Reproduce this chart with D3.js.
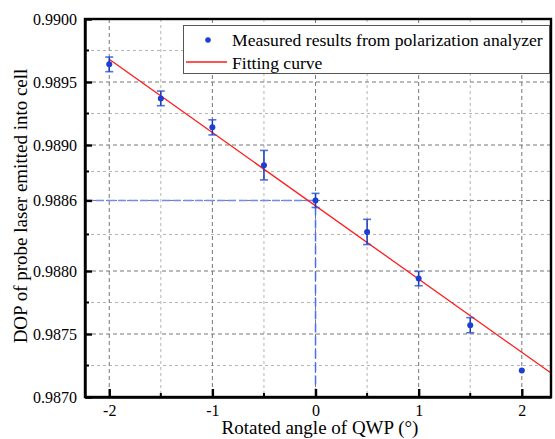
<!DOCTYPE html>
<html>
<head>
<meta charset="utf-8">
<script src="https://cdn.jsdelivr.net/npm/d3@7"></script>
<style>
  body { margin: 0; background: #fff; }
  svg { display: block; }
  svg text { font-family: "Liberation Serif", "Times New Roman", serif; }
</style>
</head>
<body>
<svg id="chart" width="555" height="439"></svg>
<script>
// measured points (angle in degrees, DOP, error)
const angles = [-2, -1.5, -1, -0.5, 0, 0.5, 1, 1.5, 2];
const dop = [0.98964, 0.98937, 0.98914, 0.98884, 0.98856, 0.98831, 0.98794, 0.98757, 0.98721];
const dopErr = [0.000058, 0.000058, 0.00006, 0.000117, 0.000056, 0.0001, 0.000057, 0.00006, 0];

// fitting line end points
const fitX = [-2, 2.3];
const fitY = [0.98968, 0.98718];

// marked point (QWP at 0)
const markX = 0;
const markY = 0.98856;

// ticks
const xMajor = [-2, -1, 0, 1, 2];
const xMinor = [-1.5, -0.5, 0.5, 1.5];
const yMajor = [0.9870, 0.9875, 0.9880, 0.98856, 0.9890, 0.9895, 0.9900];
const yMinor = [0.98725, 0.98775, 0.98829, 0.98879, 0.98925, 0.98975];

const plot = { left: 85, right: 551, top: 19, bottom: 397 };
const serif = "Liberation Serif";

const svg = d3.select("#chart");

const x = d3.scaleLinear().domain([-2.235, 2.283]).range([plot.left, plot.right]);
const y = d3.scaleLinear().domain([0.9870, 0.9900]).range([plot.bottom, plot.top]);

svg.append("defs").append("clipPath").attr("id", "plotClip")
    .append("rect")
    .attr("x", plot.left).attr("y", plot.top)
    .attr("width", plot.right - plot.left).attr("height", plot.bottom - plot.top);

// grid
const grid = svg.append("g");
grid.selectAll(".vminor").data(xMinor).enter().append("line")
    .attr("x1", d => x(d)).attr("x2", d => x(d))
    .attr("y1", plot.top).attr("y2", plot.bottom)
    .attr("stroke", "#b4b4b4").attr("stroke-dasharray", "3,3");
grid.selectAll(".hminor").data(yMinor).enter().append("line")
    .attr("x1", plot.left).attr("x2", plot.right)
    .attr("y1", d => y(d)).attr("y2", d => y(d))
    .attr("stroke", "#b4b4b4").attr("stroke-dasharray", "3,3");
grid.selectAll(".vmajor").data(xMajor).enter().append("line")
    .attr("x1", d => x(d)).attr("x2", d => x(d))
    .attr("y1", plot.top).attr("y2", plot.bottom)
    .attr("stroke", "#777").attr("stroke-dasharray", "4,3");
grid.selectAll(".hmajor").data(yMajor.slice(1, -1)).enter().append("line")
    .attr("x1", plot.left).attr("x2", plot.right)
    .attr("y1", d => y(d)).attr("y2", d => y(d))
    .attr("stroke", "#777").attr("stroke-dasharray", "4,3");

// blue guide lines to the 0 point
svg.append("line")
    .attr("x1", plot.left).attr("x2", x(markX))
    .attr("y1", y(markY)).attr("y2", y(markY))
    .attr("stroke", "#6f8ff0").attr("stroke-width", 1.5).attr("stroke-dasharray", "8,3");
svg.append("line")
    .attr("x1", x(markX)).attr("x2", x(markX))
    .attr("y1", y(markY) + 6).attr("y2", plot.bottom)
    .attr("stroke", "#4a6ef0").attr("stroke-width", 1.5).attr("stroke-dasharray", "9,4");

// fitting line
svg.append("line")
    .attr("clip-path", "url(#plotClip)")
    .attr("x1", x(fitX[0])).attr("y1", y(fitY[0]))
    .attr("x2", x(fitX[1])).attr("y2", y(fitY[1]))
    .attr("stroke", "#ff1a1a").attr("stroke-width", 1.3);

// error bars + points
const pts = angles.map((a, i) => ({ a: a, v: dop[i], e: dopErr[i] }));
const bars = svg.append("g");
pts.filter(d => d.e > 0).forEach(d => {
    const cx = x(d.a);
    bars.append("line")
        .attr("x1", cx).attr("x2", cx)
        .attr("y1", y(d.v + d.e)).attr("y2", y(d.v - d.e))
        .attr("stroke", "#1536b8").attr("stroke-width", 1.5);
    [d.v + d.e, d.v - d.e].forEach(v => {
        bars.append("line")
            .attr("x1", cx - 4).attr("x2", cx + 4)
            .attr("y1", y(v)).attr("y2", y(v))
            .attr("stroke", "#2a4fd0").attr("stroke-width", 1.6).attr("opacity", 0.8);
    });
});
bars.selectAll("circle").data(pts).enter().append("circle")
    .attr("cx", d => x(d.a)).attr("cy", d => y(d.v))
    .attr("r", 3).attr("fill", "#1c3fd2");

// axes
const xAxis = svg.append("g")
    .attr("transform", `translate(0,${plot.bottom})`)
    .call(d3.axisBottom(x).tickValues(xMajor).tickSize(-8).tickSizeOuter(0).tickPadding(8)
        .tickFormat(d => d < 0 ? "-" + Math.abs(d) : d));
xAxis.append("g").selectAll("line").data(xMinor).enter().append("line")
    .attr("x1", d => x(d)).attr("x2", d => x(d))
    .attr("y1", 0).attr("y2", -4)
    .attr("stroke", "#000").attr("stroke-width", 2);

const yAxis = svg.append("g")
    .attr("transform", `translate(${plot.left},0)`)
    .call(d3.axisLeft(y).tickValues(yMajor).tickSize(-7).tickSizeOuter(0).tickPadding(8)
        .tickFormat(d3.format(".4f")));
yAxis.append("g").selectAll("line").data(yMinor).enter().append("line")
    .attr("x1", 0).attr("x2", 4)
    .attr("y1", d => y(d)).attr("y2", d => y(d))
    .attr("stroke", "#000").attr("stroke-width", 2);

[xAxis, yAxis].forEach(ax => {
    ax.attr("font-family", serif);
    ax.select(".domain").attr("stroke-width", 2.4);
    ax.selectAll(".tick line").attr("stroke-width", 2.4);
    ax.selectAll("text").attr("font-family", serif).attr("font-size", 16).attr("fill", "#000");
});

// frame
svg.append("rect")
    .attr("x", plot.left).attr("y", plot.top)
    .attr("width", plot.right - plot.left).attr("height", plot.bottom - plot.top)
    .attr("fill", "none").attr("stroke", "#000").attr("stroke-width", 2.4);

// legend
const legend = svg.append("g").attr("font-family", serif);
legend.append("rect")
    .attr("x", 183.5).attr("y", 25.5).attr("width", 366).attr("height", 48)
    .attr("fill", "#fff").attr("stroke", "#555").attr("stroke-width", 1);
legend.append("circle").attr("cx", 208).attr("cy", 40).attr("r", 2.8).attr("fill", "#1c3fd2");
legend.append("text").attr("x", 232).attr("y", 46).attr("font-size", 17.6)
    .text("Measured results from polarization analyzer");
legend.append("line").attr("x1", 186).attr("x2", 227).attr("y1", 62).attr("y2", 62)
    .attr("stroke", "#ff1a1a").attr("stroke-width", 1.3);
legend.append("text").attr("x", 232).attr("y", 68.5).attr("font-size", 17.6)
    .text("Fitting curve");

// axis titles
svg.append("text")
    .attr("x", (plot.left + plot.right) / 2 + 2).attr("y", 434)
    .attr("text-anchor", "middle").attr("font-family", serif).attr("font-size", 19)
    .text("Rotated angle of QWP (°)");
svg.append("text")
    .attr("transform", `translate(27,${(plot.top + plot.bottom) / 2 - 2}) rotate(-90)`)
    .attr("text-anchor", "middle").attr("font-family", serif).attr("font-size", 19)
    .text("DOP of probe laser emitted into cell");
</script>
</body>
</html>
